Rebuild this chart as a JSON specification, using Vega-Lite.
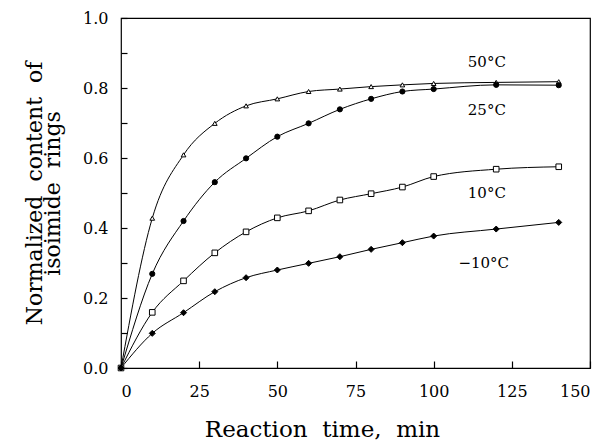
{
  "$schema": "https://vega.github.io/schema/vega-lite/v6.json",
  "width": 469,
  "height": 350,
  "autosize": "none",
  "padding": {"left": 121, "top": 18, "right": 16, "bottom": 77},
  "background": "white",
  "config": {
    "view": {"stroke": "black", "strokeWidth": 1.2},
    "font": "DejaVu Serif",
    "axis": {"tickOpacity": 1, "tickColor": "#000000", "ticks": true}
  },
  "datasets": {
    "pts": [
      {"t": 0, "v": 0, "s": "50"}, {"t": 10, "v": 0.428, "s": "50"}, {"t": 20, "v": 0.609, "s": "50"}, {"t": 30, "v": 0.699, "s": "50"}, {"t": 40, "v": 0.749, "s": "50"}, {"t": 50, "v": 0.769, "s": "50"}, {"t": 60, "v": 0.79, "s": "50"}, {"t": 70, "v": 0.797, "s": "50"}, {"t": 80, "v": 0.804, "s": "50"}, {"t": 90, "v": 0.809, "s": "50"}, {"t": 100, "v": 0.813, "s": "50"}, {"t": 120, "v": 0.816, "s": "50"}, {"t": 140, "v": 0.818, "s": "50"},
      {"t": 0, "v": 0, "s": "25"}, {"t": 10, "v": 0.269, "s": "25"}, {"t": 20, "v": 0.42, "s": "25"}, {"t": 30, "v": 0.531, "s": "25"}, {"t": 40, "v": 0.599, "s": "25"}, {"t": 50, "v": 0.661, "s": "25"}, {"t": 60, "v": 0.699, "s": "25"}, {"t": 70, "v": 0.739, "s": "25"}, {"t": 80, "v": 0.769, "s": "25"}, {"t": 90, "v": 0.79, "s": "25"}, {"t": 100, "v": 0.797, "s": "25"}, {"t": 120, "v": 0.809, "s": "25"}, {"t": 140, "v": 0.808, "s": "25"},
      {"t": 0, "v": 0, "s": "10"}, {"t": 10, "v": 0.159, "s": "10"}, {"t": 20, "v": 0.249, "s": "10"}, {"t": 30, "v": 0.329, "s": "10"}, {"t": 40, "v": 0.389, "s": "10"}, {"t": 50, "v": 0.429, "s": "10"}, {"t": 60, "v": 0.449, "s": "10"}, {"t": 70, "v": 0.48, "s": "10"}, {"t": 80, "v": 0.498, "s": "10"}, {"t": 90, "v": 0.517, "s": "10"}, {"t": 100, "v": 0.547, "s": "10"}, {"t": 120, "v": 0.568, "s": "10"}, {"t": 140, "v": 0.575, "s": "10"},
      {"t": 0, "v": 0, "s": "-10"}, {"t": 10, "v": 0.099, "s": "-10"}, {"t": 20, "v": 0.158, "s": "-10"}, {"t": 30, "v": 0.218, "s": "-10"}, {"t": 40, "v": 0.258, "s": "-10"}, {"t": 50, "v": 0.28, "s": "-10"}, {"t": 60, "v": 0.299, "s": "-10"}, {"t": 70, "v": 0.318, "s": "-10"}, {"t": 80, "v": 0.339, "s": "-10"}, {"t": 90, "v": 0.358, "s": "-10"}, {"t": 100, "v": 0.377, "s": "-10"}, {"t": 120, "v": 0.397, "s": "-10"}, {"t": 140, "v": 0.416, "s": "-10"}
    ],
    "labels": [
      {"t": 117, "v": 0.874, "label": "50°C"},
      {"t": 117, "v": 0.737, "label": "25°C"},
      {"t": 117, "v": 0.499, "label": "10°C"},
      {"t": 116, "v": 0.299, "label": "−10°C"}
    ]
  },
  "encoding": {
    "x": {"field": "t", "type": "quantitative", "scale": {"domain": [0, 150], "nice": false},
      "axis": {"values": [0, 25, 50, 75, 100, 125, 150], "grid": false, "domain": false, "tickWidth": 1.2, "tickSize": -7, "labelPadding": 22, "labelFontSize": 16, "labelColor": "black", "labelFont": "DejaVu Serif", "title": "Reaction\u00a0\u00a0time,\u00a0\u00a0min", "titleFont": "DejaVu Serif", "titleFontWeight": "normal", "titleColor": "black", "titleFontSize": 23, "titleX": 201, "titleY": 50, "titleAnchor": "middle", "zindex": 1}},
    "y": {"field": "v", "type": "quantitative", "scale": {"domain": [0, 1], "nice": false},
      "axis": {"values": [0, 0.1, 0.2, 0.3, 0.4, 0.5, 0.6, 0.7, 0.8, 0.9, 1.0], "grid": false, "domain": false, "tickWidth": 1.2, "tickSize": -6, "labelPadding": 19, "labelFontSize": 16, "labelColor": "black", "labelFont": "DejaVu Serif",
        "labelExpr": "round(datum.value*10)%2==0 ? format(datum.value,'.1f') : ''",
        "title": ["Normalized\u00a0\u00a0content\u00a0\u00a0of", "isoimide\u00a0\u00a0rings"], "titleFont": "DejaVu Serif", "titleFontWeight": "normal", "titleColor": "black", "titleFontSize": 22, "titleX": -75, "titleY": 175, "titleAngle": -90, "titleAlign": "center", "titleBaseline": "bottom", "titleLineHeight": 18, "zindex": 1}}
  },
  "layer": [
    {
      "data": {"name": "pts"},
      "mark": {"type": "line", "interpolate": "monotone", "color": "black", "strokeWidth": 1},
      "encoding": {"detail": {"field": "s"}}
    },
    {
      "data": {"name": "pts"},
      "mark": {"type": "point", "filled": true, "stroke": "black", "strokeWidth": 1, "opacity": 1},
      "encoding": {
        "shape": {"field": "s", "type": "nominal", "scale": {"domain": ["50", "25", "10", "-10"], "range": ["triangle-up", "circle", "square", "diamond"]}, "legend": null},
        "fill": {"field": "s", "type": "nominal", "scale": {"domain": ["50", "25", "10", "-10"], "range": ["white", "black", "white", "black"]}, "legend": null},
        "size": {"field": "s", "type": "nominal", "scale": {"domain": ["50", "25", "10", "-10"], "range": [22, 36, 26, 7]}, "legend": null}
      }
    },
    {
      "data": {"name": "labels"},
      "mark": {"type": "text", "font": "DejaVu Serif", "fontSize": 15, "color": "black", "align": "center", "baseline": "middle"},
      "encoding": {"text": {"field": "label"}}
    }
  ]
}
